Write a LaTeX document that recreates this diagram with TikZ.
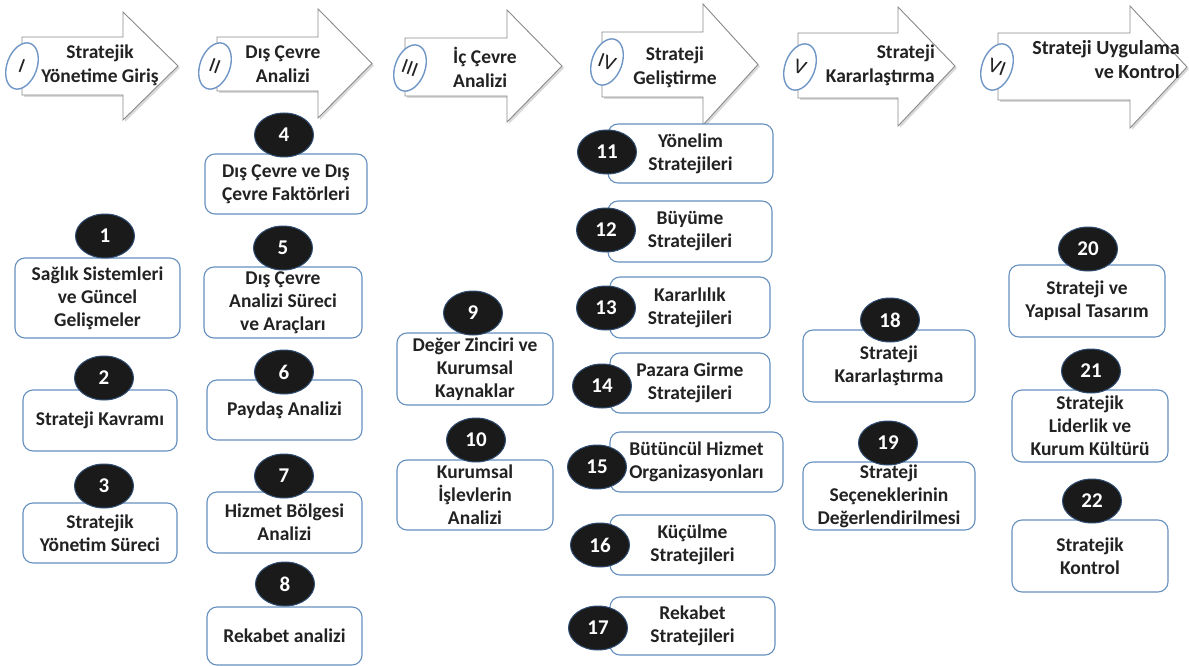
\documentclass[tikz,border=0pt]{standalone}
\usepackage{fontspec}
\setmainfont{Carlito}
\usetikzlibrary{shapes.geometric,shadows}
\definecolor{boxblue}{HTML}{6590BE}
\definecolor{circfill}{HTML}{1A1A1A}
\definecolor{circedge}{HTML}{2F4D73}
\definecolor{txt}{HTML}{222222}
\definecolor{arrowgray}{HTML}{8A8A8A}
\definecolor{ellblue}{HTML}{7096C6}
\begin{document}
\begin{tikzpicture}[x=1pt,y=-1pt,
 box/.style={draw=boxblue, line width=1.1pt, rounded corners=10pt, fill=white, align=center,
   font=\fontsize{19.5}{23}\selectfont\bfseries, text=txt, inner sep=0pt},
 bx/.style 2 args={box, minimum width=#1pt, minimum height=#2pt},
 num/.style={ellipse, fill=circfill, draw=circedge, line width=1pt, minimum width=59pt,
   minimum height=44pt, inner sep=0pt, text=white, font=\fontsize{21}{21}\selectfont\bfseries},
 chev/.style={draw=arrowgray, line width=0.9pt, fill=white,
   drop shadow={opacity=0.3, shadow xshift=2pt, shadow yshift=-2pt}},
 roman/.style={ellipse, draw=ellblue, line width=1.4pt, fill=white, minimum width=30pt,
   minimum height=48pt, rotate=-20, inner sep=0pt, text=txt, font=\fontsize{21}{21}\selectfont},
 head/.style={font=\fontsize{19.5}{24}\selectfont\bfseries, text=txt, inner sep=0pt}
]
\useasboundingbox (0,0) rectangle (1189,666);

% ---- header arrows ----
\path[chev] (22,37) -- (123,37) -- (123,12) -- (178,66) -- (123,120) -- (123,95) -- (22,95) -- cycle;
\path[chev] (217,37) -- (318,37) -- (318,9) -- (372,63.5) -- (318,118) -- (318,91) -- (217,91) -- cycle;
\path[chev] (405,38) -- (507,38) -- (507,10) -- (562,66) -- (507,122) -- (507,96) -- (405,96) -- cycle;
\path[chev] (602,32) -- (703,32) -- (703,4) -- (758,64.5) -- (703,125) -- (703,97) -- (602,97) -- cycle;
\path[chev] (798,33) -- (898,33) -- (898,7) -- (955,66) -- (898,126) -- (898,98) -- (798,98) -- cycle;
\path[chev] (998,33) -- (1130,33) -- (1130,6) -- (1187,67) -- (1130,128) -- (1130,100) -- (998,100) -- cycle;

\node[roman] (r1) at (22,66) {I};
\node[roman] (r2) at (215,66) {II};
\node[roman] (r3) at (410,68) {III};
\node[roman] (r4) at (607,62) {IV};
\node[roman] (r5) at (800,67) {V};
\node[roman] (r6) at (997,67) {VI};

\node[head, align=center] (h1) at (100,65) {Stratejik\\Yönetime Giriş};
\node[head, align=center] (h2) at (283,64) {Dış Çevre\\Analizi};
\node[head, align=left, anchor=west] (h3) at (453,67) {İç Çevre\\Analizi};
\node[head, align=center] (h4) at (675,67) {Strateji\\Geliştirme};
\node[head, align=right, anchor=east] (h5) at (935,65) {Strateji\\Kararlaştırma};
\node[head, align=right, anchor=east, font=\fontsize{20}{24}\selectfont\bfseries] (h6) at (1180,60) {Strateji Uygulama\\ve Kontrol};

% ---- boxes ----
\node[bx={165}{80}] (b1) at (97.5,298) {Sağlık Sistemleri\\ve Güncel\\Gelişmeler};
\node[bx={154}{61}] (b2) at (100,420.5) {Strateji Kavramı};
\node[bx={154}{60}] (b3) at (100,533) {Stratejik\\Yönetim Süreci};

\node[bx={162}{60}] (b4) at (286,184) {Dış Çevre ve Dış\\Çevre Faktörleri};
\node[bx={158}{71}] (b5) at (283,302.5) {Dış Çevre\\Analizi Süreci\\ve Araçları};
\node[bx={155}{60}] (b6) at (284.5,410) {Paydaş Analizi};
\node[bx={155}{61}] (b7) at (284.5,522.5) {Hizmet Bölgesi\\Analizi};
\node[bx={155}{58}] (b8) at (284.5,636) {Rekabet analizi};

\node[bx={156}{72}] (b9) at (475,369) {Değer Zinciri ve\\Kurumsal\\Kaynaklar};
\node[bx={156}{70}] (b10) at (475,495) {Kurumsal\\İşlevlerin\\Analizi};

\node[bx={165}{59}] (b11) at (690.5,153.5) {Yönelim\\Stratejileri};
\node[bx={164}{61}] (b12) at (690,231.5) {Büyüme\\Stratejileri};
\node[bx={160}{61}] (b13) at (690,307.5) {Kararlılık\\Stratejileri};
\node[bx={160}{60}] (b14) at (690,383) {Pazara Girme\\Stratejileri};
\node[bx={173}{60}] (b15) at (696.5,462) {Bütüncül Hizmet\\Organizasyonları};
\node[bx={165}{60}] (b16) at (692.5,545) {Küçülme\\Stratejileri};
\node[bx={165}{58}] (b17) at (692.5,626) {Rekabet\\Stratejileri};

\node[bx={172}{72}] (b18) at (889,366) {Strateji\\Kararlaştırma};
\node[bx={172}{68}] (b19) at (889,496) {Strateji\\Seçeneklerinin\\Değerlendirilmesi};

\node[bx={156}{72}] (b20) at (1087,301) {Strateji ve\\Yapısal Tasarım};
\node[bx={156}{72}] (b21) at (1090,426) {Stratejik\\Liderlik ve\\Kurum Kültürü};
\node[bx={156}{72}] (b22) at (1090,556) {Stratejik\\Kontrol};

% ---- number circles ----
\node[num] (c1) at (105,236) {1};
\node[num] (c2) at (104,378) {2};
\node[num] (c3) at (104,486) {3};
\node[num] (c4) at (284,135) {4};
\node[num] (c5) at (283,248) {5};
\node[num] (c6) at (284,372) {6};
\node[num] (c7) at (284,476) {7};
\node[num] (c8) at (285,584) {8};
\node[num] (c9) at (473,313) {9};
\node[num] (c10) at (476,440) {10};
\node[num] (c11) at (607,152) {11};
\node[num] (c12) at (606,230) {12};
\node[num] (c13) at (606,308) {13};
\node[num] (c14) at (602,386) {14};
\node[num] (c15) at (597,467) {15};
\node[num] (c16) at (600,545) {16};
\node[num] (c17) at (598,628) {17};
\node[num] (c18) at (890,320) {18};
\node[num] (c19) at (888,443) {19};
\node[num] (c20) at (1088,249) {20};
\node[num] (c21) at (1091,371) {21};
\node[num] (c22) at (1092,501) {22};
\end{tikzpicture}
\end{document}
